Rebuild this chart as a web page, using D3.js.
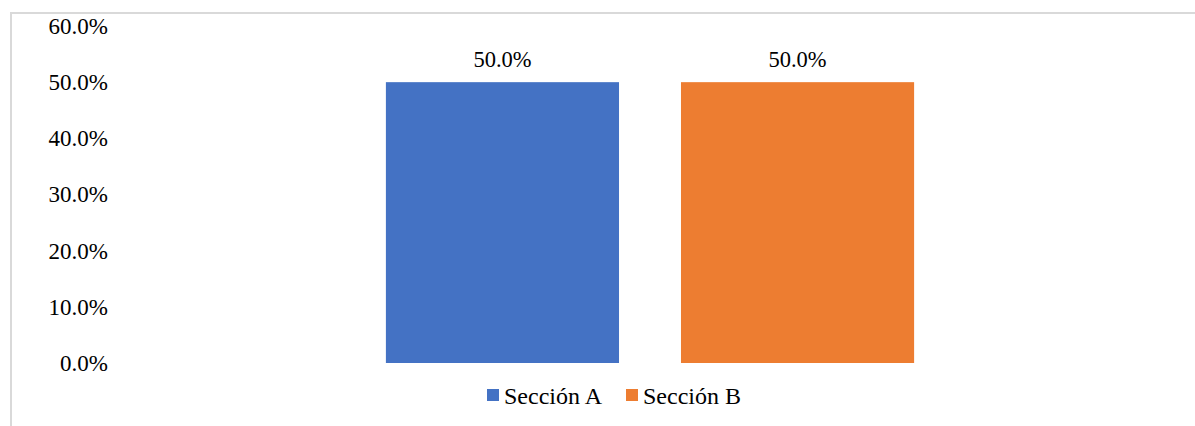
<!DOCTYPE html>
<html>
<head>
<meta charset="utf-8">
<script src="https://cdn.jsdelivr.net/npm/d3@7"></script>
<style>
  html, body { margin: 0; padding: 0; background: #fff; }
  svg { display: block; }
  text { font-family: "Liberation Serif", "Times New Roman", serif; fill: #000; }
</style>
</head>
<body>
<svg id="chart" width="1195" height="426"></svg>
<script>
// Series names and their shares
const series = ["Sección A", "Sección B"];
const values = [0.5, 0.5];
const colors = ["#4472C4", "#ED7D31"];
const yTicks = [0, 0.1, 0.2, 0.3, 0.4, 0.5, 0.6];

const svg = d3.select("#chart");
const W = 1195, H = 426;

// Outer chart frame
svg.append("rect")
  .attr("x", 11).attr("y", 13)
  .attr("width", W).attr("height", H)
  .attr("fill", "none")
  .attr("stroke", "#d9d9d9")
  .attr("stroke-width", 2);

const plot = { left: 115, right: 1185, top: 26, bottom: 363 };

const x = d3.scaleBand()
  .domain(series)
  .range([plot.left, plot.right])
  .paddingInner(0.21)
  .paddingOuter(0.918);

const y = d3.scaleLinear()
  .domain([0, 0.6])
  .range([plot.bottom, plot.top]);

const fmt = d3.format(".1%");

// Value axis labels only (no line, no ticks)
const yAxis = svg.append("g")
  .attr("transform", `translate(${108},0)`)
  .call(d3.axisLeft(y).tickValues(yTicks).tickFormat(fmt).tickSize(0).tickPadding(0));
yAxis.select(".domain").remove();
yAxis.selectAll("text")
  .attr("font-family", "Liberation Serif, Times New Roman, serif")
  .attr("font-size", 23)
  .attr("fill", "#000");

// Bars
svg.selectAll("rect.bar")
  .data(series)
  .join("rect")
  .attr("class", "bar")
  .attr("x", d => x(d))
  .attr("width", x.bandwidth())
  .attr("y", (d, i) => y(values[i]))
  .attr("height", (d, i) => y(0) - y(values[i]))
  .attr("fill", (d, i) => colors[i]);

// Data labels
svg.selectAll("text.val")
  .data(series)
  .join("text")
  .attr("class", "val")
  .attr("x", d => x(d) + x.bandwidth() / 2)
  .attr("y", (d, i) => y(values[i]) - 15)
  .attr("text-anchor", "middle")
  .attr("font-size", 22.5)
  .text((d, i) => fmt(values[i]));

// Legend
const legendItems = [
  { name: series[0], color: colors[0], x: 487 },
  { name: series[1], color: colors[1], x: 626 }
];
const lg = svg.append("g");
legendItems.forEach(it => {
  lg.append("rect")
    .attr("x", it.x).attr("y", 389)
    .attr("width", 12).attr("height", 12)
    .attr("fill", it.color);
  lg.append("text")
    .attr("x", it.x + 17).attr("y", 404)
    .attr("font-size", 24)
    .text(it.name);
});
</script>
</body>
</html>
